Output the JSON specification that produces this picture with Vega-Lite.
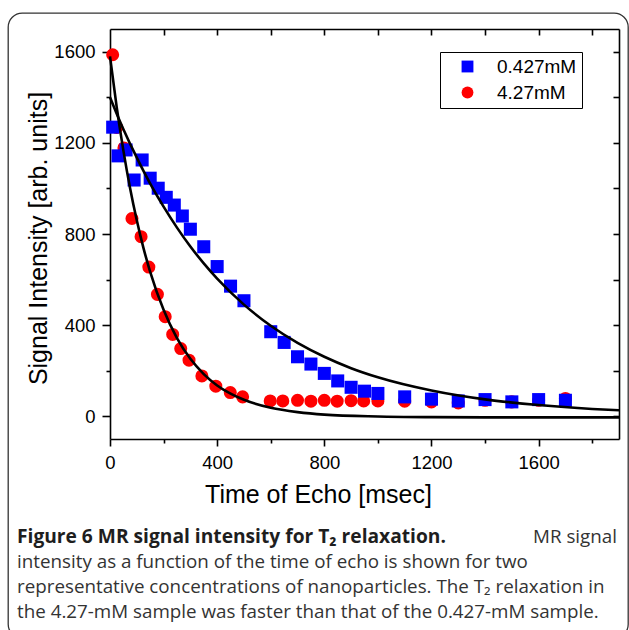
{
  "$schema": "https://vega.github.io/schema/vega-lite/v6.json",
  "width": 620,
  "height": 625,
  "autosize": {"type": "none"},
  "padding": {"left": 8, "top": 13, "right": 1, "bottom": 0},
  "background": "white",
  "config": {
    "view": {"stroke": "#333333", "strokeWidth": 1.3, "cornerRadius": 14, "fill": "white"},
    "font": "Liberation Sans",
    "axis": {
      "grid": false,
      "domainColor": "black",
      "tickColor": "black",
      "labelColor": "black",
      "titleColor": "black",
      "domainWidth": 1.6,
      "tickWidth": 1.6,
      "labelFont": "Liberation Sans",
      "titleFont": "Liberation Sans",
      "labelFontSize": 18.5,
      "titleFontSize": 25,
      "titleFontWeight": "normal"
    }
  },
  "resolve": {"scale": {"x": "independent", "y": "independent"}},
  "layer": [
    {
      "resolve": {"axis": {"x": "independent", "y": "independent"}},
      "layer": [
        {
          "data": {
            "values": [
              {"series": "4.27mM", "time": 10, "signal": 1587},
              {"series": "4.27mM", "time": 25, "signal": 1268},
              {"series": "4.27mM", "time": 52, "signal": 1178},
              {"series": "4.27mM", "time": 82, "signal": 868},
              {"series": "4.27mM", "time": 116, "signal": 788},
              {"series": "4.27mM", "time": 145, "signal": 655},
              {"series": "4.27mM", "time": 177, "signal": 535},
              {"series": "4.27mM", "time": 206, "signal": 437},
              {"series": "4.27mM", "time": 234, "signal": 359},
              {"series": "4.27mM", "time": 264, "signal": 297},
              {"series": "4.27mM", "time": 295, "signal": 246},
              {"series": "4.27mM", "time": 343, "signal": 177},
              {"series": "4.27mM", "time": 395, "signal": 132},
              {"series": "4.27mM", "time": 449, "signal": 104},
              {"series": "4.27mM", "time": 495, "signal": 85},
              {"series": "4.27mM", "time": 598, "signal": 67},
              {"series": "4.27mM", "time": 645, "signal": 67},
              {"series": "4.27mM", "time": 700, "signal": 70},
              {"series": "4.27mM", "time": 750, "signal": 66},
              {"series": "4.27mM", "time": 800, "signal": 70},
              {"series": "4.27mM", "time": 848, "signal": 66},
              {"series": "4.27mM", "time": 900, "signal": 68},
              {"series": "4.27mM", "time": 947, "signal": 67},
              {"series": "4.27mM", "time": 1000, "signal": 67},
              {"series": "4.27mM", "time": 1100, "signal": 66},
              {"series": "4.27mM", "time": 1200, "signal": 63},
              {"series": "4.27mM", "time": 1300, "signal": 58},
              {"series": "4.27mM", "time": 1400, "signal": 70},
              {"series": "4.27mM", "time": 1500, "signal": 63},
              {"series": "4.27mM", "time": 1600, "signal": 70},
              {"series": "4.27mM", "time": 1700, "signal": 78},
              {"series": "0.427mM", "time": 10, "signal": 1269},
              {"series": "0.427mM", "time": 30, "signal": 1143},
              {"series": "0.427mM", "time": 60, "signal": 1169},
              {"series": "0.427mM", "time": 90, "signal": 1037},
              {"series": "0.427mM", "time": 120, "signal": 1125},
              {"series": "0.427mM", "time": 150, "signal": 1045},
              {"series": "0.427mM", "time": 180, "signal": 1001},
              {"series": "0.427mM", "time": 210, "signal": 961},
              {"series": "0.427mM", "time": 240, "signal": 927},
              {"series": "0.427mM", "time": 270, "signal": 879},
              {"series": "0.427mM", "time": 300, "signal": 821},
              {"series": "0.427mM", "time": 350, "signal": 744},
              {"series": "0.427mM", "time": 400, "signal": 657},
              {"series": "0.427mM", "time": 450, "signal": 571},
              {"series": "0.427mM", "time": 500, "signal": 507},
              {"series": "0.427mM", "time": 600, "signal": 371},
              {"series": "0.427mM", "time": 650, "signal": 324},
              {"series": "0.427mM", "time": 700, "signal": 261},
              {"series": "0.427mM", "time": 750, "signal": 229},
              {"series": "0.427mM", "time": 800, "signal": 188},
              {"series": "0.427mM", "time": 850, "signal": 155},
              {"series": "0.427mM", "time": 900, "signal": 127},
              {"series": "0.427mM", "time": 950, "signal": 110},
              {"series": "0.427mM", "time": 1000, "signal": 100},
              {"series": "0.427mM", "time": 1100, "signal": 85},
              {"series": "0.427mM", "time": 1200, "signal": 75},
              {"series": "0.427mM", "time": 1300, "signal": 67},
              {"series": "0.427mM", "time": 1400, "signal": 73},
              {"series": "0.427mM", "time": 1500, "signal": 63},
              {"series": "0.427mM", "time": 1600, "signal": 73},
              {"series": "0.427mM", "time": 1700, "signal": 70}
            ]
          },
          "mark": {"type": "point", "filled": true, "opacity": 1, "size": 170, "strokeWidth": 0},
          "encoding": {
            "x": {
              "field": "time", "type": "quantitative",
              "scale": {"domain": [0, 1900], "range": [102, 611], "nice": false, "zero": false},
              "axis": {"orient": "bottom", "offset": -199, "values": [0, 400, 800, 1200, 1600], "format": "d", "tickSize": 7, "labelPadding": 7, "labelFlush": false, "labelOverlap": false, "title": "Time of Echo [msec]", "titleX": 310, "titleY": 63, "titleBaseline": "alphabetic", "titleAnchor": "middle", "titleAlign": "center"}
            },
            "y": {
              "field": "signal", "type": "quantitative",
              "scale": {"domain": [-100, 1700], "range": [426, 16], "nice": false, "zero": false},
              "axis": {"orient": "left", "offset": -102, "values": [0, 400, 800, 1200, 1600], "format": "d", "tickSize": 8, "labelPadding": 7, "labelFlush": false, "labelOverlap": false, "title": "Signal Intensity [arb. units]", "titleX": -64, "titleY": 225, "titleAngle": -90, "titleBaseline": "alphabetic", "titleAlign": "center"}
            },
            "color": {
              "field": "series", "type": "nominal",
              "scale": {"domain": ["0.427mM", "4.27mM"], "range": ["#0000ff", "#ff0000"]},
              "legend": {"orient": "none", "legendX": 432, "legendY": 39, "title": null, "strokeColor": "black", "fillColor": "white", "padding": 5, "symbolOffset": 13, "labelOffset": 20, "labelFontSize": 19, "labelFont": "Liberation Sans", "labelColor": "black", "symbolSize": 140, "rowPadding": 6, "symbolStrokeWidth": 0}
            },
            "shape": {
              "field": "series", "type": "nominal",
              "scale": {"domain": ["0.427mM", "4.27mM"], "range": ["square", "circle"]},
              "legend": {"orient": "none", "legendX": 432, "legendY": 39, "title": null, "strokeColor": "black", "fillColor": "white", "padding": 5, "symbolOffset": 13, "labelOffset": 20, "labelFontSize": 19, "labelFont": "Liberation Sans", "labelColor": "black", "symbolSize": 140, "rowPadding": 6, "symbolStrokeWidth": 0}
            }
          }
        },
        {
          "data": {
            "values": [
              {"time": 0, "fit": 1400}, {"time": 25, "fit": 1328}, {"time": 50, "fit": 1260},
              {"time": 100, "fit": 1135}, {"time": 150, "fit": 1021}, {"time": 200, "fit": 920},
              {"time": 250, "fit": 828}, {"time": 300, "fit": 745}, {"time": 350, "fit": 671},
              {"time": 400, "fit": 604}, {"time": 500, "fit": 490}, {"time": 600, "fit": 397},
              {"time": 700, "fit": 322}, {"time": 800, "fit": 261}, {"time": 900, "fit": 211},
              {"time": 1000, "fit": 171}, {"time": 1200, "fit": 113}, {"time": 1400, "fit": 74},
              {"time": 1600, "fit": 49}, {"time": 1800, "fit": 32}, {"time": 1900, "fit": 26}
            ]
          },
          "mark": {"type": "line", "color": "black", "strokeWidth": 2.6, "interpolate": "monotone"},
          "encoding": {
            "x": {
              "field": "time", "type": "quantitative",
              "scale": {"domain": [0, 1900], "range": [102, 611], "nice": false, "zero": false},
              "axis": {"orient": "bottom", "offset": -199, "values": [200, 600, 1000, 1400, 1800], "tickSize": 4, "labels": false, "domain": false, "title": null}
            },
            "y": {
              "field": "fit", "type": "quantitative",
              "scale": {"domain": [-100, 1700], "range": [426, 16], "nice": false, "zero": false},
              "axis": {"orient": "left", "offset": -102, "values": [200, 600, 1000, 1400], "tickSize": 4, "labels": false, "domain": false, "title": null}
            }
          }
        },
        {
          "data": {
            "values": [
              {"time": 0, "fit": 1580}, {"time": 25, "fit": 1357}, {"time": 50, "fit": 1166},
              {"time": 75, "fit": 1001}, {"time": 100, "fit": 860}, {"time": 125, "fit": 738},
              {"time": 150, "fit": 634}, {"time": 200, "fit": 467}, {"time": 250, "fit": 343},
              {"time": 300, "fit": 252}, {"time": 350, "fit": 185}, {"time": 400, "fit": 135},
              {"time": 450, "fit": 99}, {"time": 500, "fit": 72}, {"time": 600, "fit": 37},
              {"time": 700, "fit": 18}, {"time": 800, "fit": 7}, {"time": 1000, "fit": -1},
              {"time": 1200, "fit": -4}, {"time": 1400, "fit": -5}, {"time": 1600, "fit": -5},
              {"time": 1900, "fit": -5}
            ]
          },
          "mark": {"type": "line", "color": "black", "strokeWidth": 2.6, "interpolate": "monotone"},
          "encoding": {
            "x": {
              "field": "time", "type": "quantitative",
              "scale": {"domain": [0, 1900], "range": [102, 611], "nice": false, "zero": false},
              "axis": {"orient": "top", "offset": -16, "values": [200, 400, 600, 800, 1000, 1200, 1400, 1600, 1800], "tickSize": -6, "labels": false, "domain": true, "title": null}
            },
            "y": {
              "field": "fit", "type": "quantitative",
              "scale": {"domain": [-100, 1700], "range": [426, 16], "nice": false, "zero": false},
              "axis": {"orient": "right", "offset": -9, "values": [0, 200, 400, 600, 800, 1000, 1200, 1400, 1600], "tickSize": -6, "labels": false, "domain": true, "title": null}
            }
          }
        }
      ]
    },
    {
      "layer": [
        {
          "data": {"values": [{"row": 0, "side": "left", "text": "Figure 6 MR signal intensity for T₂ relaxation."}]},
          "mark": {"type": "text", "align": "left", "baseline": "middle", "font": "Open Sans", "fontSize": 19.2, "fontWeight": "bold", "color": "#1e1e1e"},
          "encoding": {
            "x": {"field": "side", "type": "nominal", "scale": {"type": "point", "padding": 0, "domain": ["left", "right"], "range": [9, 609]}, "axis": null},
            "y": {"field": "row", "type": "quantitative", "scale": {"domain": [0, 3], "range": [524, 599], "nice": false, "zero": false}, "axis": null},
            "text": {"field": "text"}
          }
        },
        {
          "data": {"values": [{"row": 0, "side": "right", "text": "MR signal"}]},
          "mark": {"type": "text", "align": "right", "baseline": "middle", "font": "Open Sans", "fontSize": 18.8, "color": "#333333"},
          "encoding": {
            "x": {"field": "side", "type": "nominal", "scale": {"type": "point", "padding": 0, "domain": ["left", "right"], "range": [9, 609]}, "axis": null},
            "y": {"field": "row", "type": "quantitative", "scale": {"domain": [0, 3], "range": [524, 599], "nice": false, "zero": false}, "axis": null},
            "text": {"field": "text"}
          }
        },
        {
          "data": {"values": [
            {"row": 1, "side": "left", "text": "intensity as a function of the time of echo is shown for two"},
            {"row": 2, "side": "left", "text": "representative concentrations of nanoparticles. The T₂ relaxation in"},
            {"row": 3, "side": "left", "text": "the 4.27-mM sample was faster than that of the 0.427-mM sample."}
          ]},
          "mark": {"type": "text", "align": "left", "baseline": "middle", "font": "Open Sans", "fontSize": 18.8, "color": "#333333"},
          "encoding": {
            "x": {"field": "side", "type": "nominal", "scale": {"type": "point", "padding": 0, "domain": ["left", "right"], "range": [9, 609]}, "axis": null},
            "y": {"field": "row", "type": "quantitative", "scale": {"domain": [0, 3], "range": [524, 599], "nice": false, "zero": false}, "axis": null},
            "text": {"field": "text"}
          }
        }
      ]
    }
  ]
}
